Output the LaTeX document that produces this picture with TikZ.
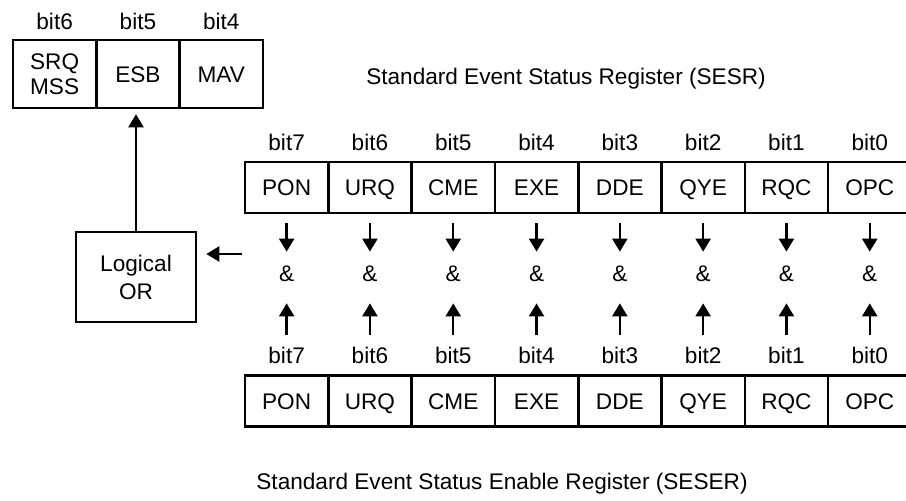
\documentclass[tikz,border=0pt]{standalone}
\usepackage{fontspec}
\setmainfont{Liberation Sans}
\usetikzlibrary{arrows.meta}

\begin{document}
\begin{tikzpicture}[x=0.5pt,y=-0.5pt,
    font=\fontsize{11.3}{12.5}\selectfont,
    cell/.style={draw,line width=1.3pt,minimum width=41.65pt,minimum height=25.5pt,inner sep=0pt,
                 text height=8.1pt,text depth=0pt},
    bitlbl/.style={minimum height=15pt,inner sep=0pt,text height=8.1pt,text depth=0pt},
    und/.style={minimum height=15pt,inner sep=0pt,text height=8.1pt,text depth=0pt},
    pfeil/.style={line width=1.2pt,-{Triangle[length=6.5pt,width=7.5pt]}}]
\useasboundingbox (0,0) rectangle (906,500);
    % Statusbyte oben links:
    \node[draw,line width=1.3pt,minimum width=41.65pt,minimum height=34pt,inner sep=0pt,
          align=center] (srq) at (54.65,74) {SRQ\\MSS};
    \node[cell,minimum height=34pt] (esb) at (137.95,74) {ESB};
    \node[cell,minimum height=34pt] (mav) at (221.25,74) {MAV};
    \node[bitlbl] (b6) at (54.65,21) {bit6};
    \node[bitlbl] (b5) at (137.95,21) {bit5};
    \node[bitlbl] (b4) at (221.25,21) {bit4};
    \node (sesr) at (566,79) {Standard Event Status Register (SESR)};
    % ODER-Glied:
    \node[draw,line width=1.3pt,minimum width=60pt,minimum height=45pt,align=center,
          font=\fontsize{11.3}{14}\selectfont] (oder) at (136,277) {Logical\\OR};
    \draw[pfeil,shorten >=2.5pt] (oder.north) -- (oder.north |- esb.south);
    \coordinate (ein) at (242,254);
    \draw[pfeil,shorten >=4.5pt] (ein) -- (ein -| oder.east);
    % beide Register mit UND:
\foreach \n [count=\i from 0] in {PON,URQ,CME,EXE,DDE,QYE,RQC,OPC}{
    \pgfmathtruncatemacro{\b}{7-\i}
    \node[bitlbl] (tb\i) at (286.65+83.3*\i,142) {bit\b};
    \node[cell] (t\i) at (286.65+83.3*\i,187.5) {\n};
    \node[und] (u\i) at (286.65+83.3*\i,273) {\&};
    \node[bitlbl] (l\i) at (286.65+83.3*\i,355) {bit\b};
    \node[cell] (e\i) at (286.65+83.3*\i,401) {\n};
    \draw[pfeil,shorten <=4.5pt,shorten >=3pt] (t\i) -- (u\i);
    \draw[pfeil,shorten <=2.5pt,shorten >=7.5pt] (l\i) -- (u\i);
}
    \node (seser) at (502,484) {Standard Event Status Enable Register (SESER)};
\end{tikzpicture}
\end{document}
